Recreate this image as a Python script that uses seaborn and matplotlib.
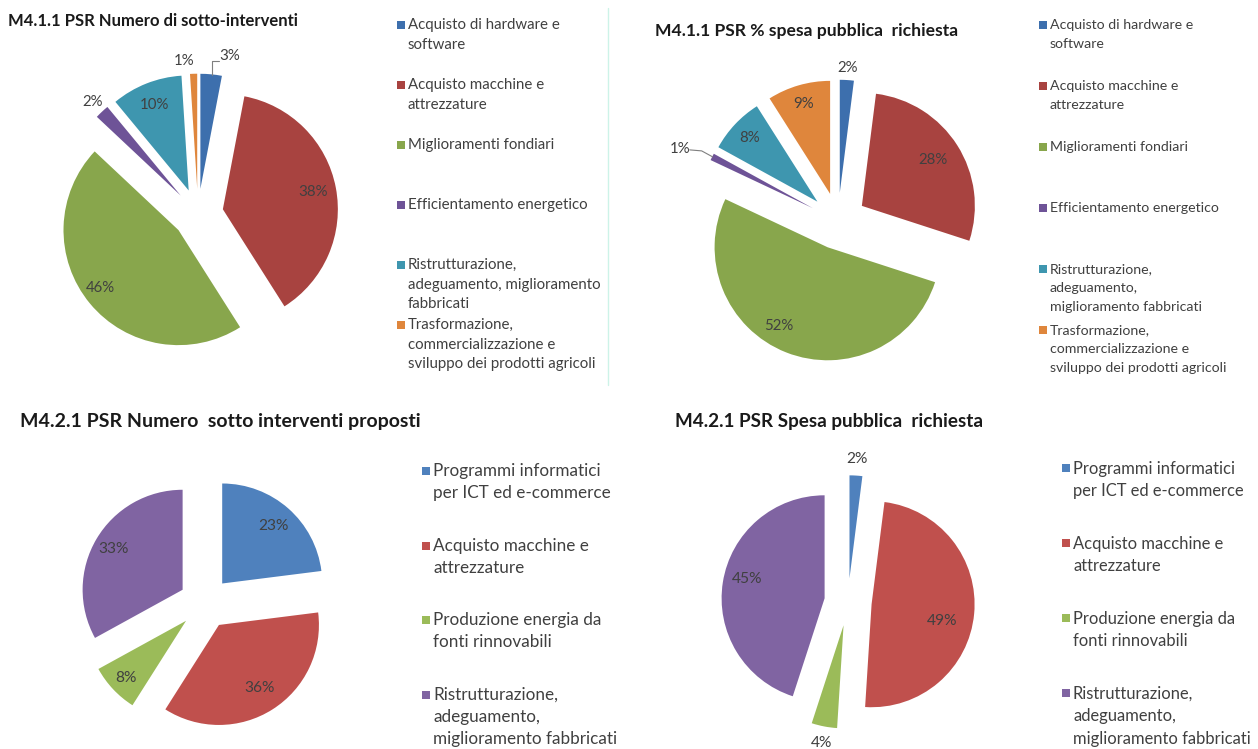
import matplotlib
matplotlib.use("Agg")
import matplotlib.pyplot as plt
from matplotlib.patches import Rectangle
import numpy as np
import seaborn as sns

# ---------------- data ----------------
cats_411_num = [
    "Acquisto di hardware e\nsoftware",
    "Acquisto macchine e\nattrezzature",
    "Miglioramenti fondiari",
    "Efficientamento energetico",
    "Ristrutturazione,\nadeguamento, miglioramento\nfabbricati",
    "Trasformazione,\ncommercializzazione e\nsviluppo dei prodotti agricoli",
]
vals_411_num = [3, 38, 46, 2, 10, 1]

cats_411_spesa = [
    "Acquisto di hardware e\nsoftware",
    "Acquisto macchine e\nattrezzature",
    "Miglioramenti fondiari",
    "Efficientamento energetico",
    "Ristrutturazione,\nadeguamento,\nmiglioramento fabbricati",
    "Trasformazione,\ncommercializzazione e\nsviluppo dei prodotti agricoli",
]
vals_411_spesa = [2, 28, 52, 1, 8, 9]

cats_421 = [
    "Programmi informatici\nper ICT ed e-commerce",
    "Acquisto macchine e\nattrezzature",
    "Produzione energia da\nfonti rinnovabili",
    "Ristrutturazione,\nadeguamento,\nmiglioramento fabbricati",
]
vals_421_num = [23, 36, 8, 33]
vals_421_spesa = [2, 49, 4, 45]

titles = [
    "M4.1.1 PSR Numero di sotto-interventi",
    "M4.1.1 PSR % spesa pubblica  richiesta",
    "M4.2.1 PSR Numero  sotto interventi proposti",
    "M4.2.1 PSR Spesa pubblica  richiesta",
]

# ---------------- style ----------------
sns.set_theme(style="white")
plt.rcParams["font.family"] = ["Lato", "DejaVu Sans"]

pal_top = sns.color_palette(["#3D6FAD", "#A84340", "#88A64C", "#6E5397", "#3E96AF", "#DF863C"])
pal_bot = sns.color_palette(["#4F81BD", "#C0504D", "#9BBB59", "#8064A2"])

W, H = 1258, 749
fig = plt.figure(figsize=(W / 100, H / 100), dpi=100)
ax = fig.add_axes([0, 0, 1, 1])

TXT = "#404040"


def Y(y):
    return H - y


def draw_pie(vals, colors, cx, cy, R, ex, lab_r, lab_dt):
    # explode is given as a fraction of the radius; pie() wants data units
    ax.pie(
        vals, colors=colors, startangle=90, counterclock=False,
        radius=R, center=(cx, Y(cy)), explode=[ex * R] * len(vals),
        wedgeprops=dict(linewidth=0), normalize=True,
    )
    total = float(sum(vals))
    cum = 0.0
    pos = []
    for v, rf, dt in zip(vals, lab_r, lab_dt):
        mid = np.deg2rad((cum + v / 2) / total * 360)
        cum += v
        ax_x = cx + ex * R * np.sin(mid)
        ax_y = Y(cy) + ex * R * np.cos(mid)
        t = mid + np.deg2rad(dt)
        lx = ax_x + rf * R * np.sin(t)
        ly = ax_y + rf * R * np.cos(t)
        pos.append((lx, ly))
    return pos


def label(pos, vals, size):
    for (lx, ly), v in zip(pos, vals):
        ax.text(lx, ly, f"{v}%", ha="center", va="center", fontsize=size, color=TXT)


def legend(cats, colors, x, y0, step, size, ls):
    for i, (c, col) in enumerate(zip(cats, colors)):
        y = y0 + i * step
        ax.add_patch(Rectangle((x, Y(y) - 4), 8, 8, color=col, lw=0))
        ax.text(x + 11, Y(y) + size * 0.62, c, ha="left", va="top", fontsize=size,
                color=TXT, linespacing=ls)


# --- M4.1.1 numero ---
p1 = draw_pie(vals_411_num, pal_top, 198, 214, 115, 0.22,
              [1.18, 0.8, 0.85, 1.12, 0.8, 1.12], [7, 0, 3, 0, 0, -4])
label(p1, vals_411_num, 10.8)
legend(cats_411_num, pal_top, 397, 25, 60, 10.8, 1.5)
ax.text(8, Y(21), titles[0], ha="left", va="center", fontsize=12,
        fontweight="bold", color="#1a1a1a")

# --- M4.1.1 spesa ---
p2 = draw_pie(vals_411_spesa, pal_top, 838, 221, 113, 0.25,
              [1.11, 0.75, 0.82, 1.29, 0.82, 0.83], [0, 0, 10, -3, 0, 0])
label(p2, vals_411_spesa, 10.8)
legend(cats_411_spesa, pal_top, 1039, 25, 61, 10.2, 1.7)
ax.text(655, Y(31), titles[1], ha="left", va="center", fontsize=12.6,
        fontweight="bold", color="#1a1a1a")

# --- M4.2.1 numero ---
p3 = draw_pie(vals_421_num, pal_bot, 205, 603, 100, 0.26,
              [0.77, 0.75, 0.83, 0.8], [0, 0, 0, 0])
label(p3, vals_421_num, 11.2)
legend(cats_421, pal_bot, 422, 471, 74.5, 12.3, 1.45)
ax.text(20, Y(421), titles[2], ha="left", va="center", fontsize=14,
        fontweight="bold", color="#1a1a1a")

# --- M4.2.1 spesa ---
p4 = draw_pie(vals_421_spesa, pal_bot, 848, 602, 103, 0.23,
              [1.16, 0.7, 1.16, 0.78], [0, 8, 0, 5])
label(p4, vals_421_spesa, 11.2)
legend(cats_421, pal_bot, 1062, 468, 75, 11.9, 1.5)
ax.text(675, Y(421), titles[3], ha="left", va="center", fontsize=13.6,
        fontweight="bold", color="#1a1a1a")

# leader lines for the small outside labels
lx, ly = p1[0]
ax.plot([lx - 11, lx - 18, lx - 18], [ly - 5, ly - 5, ly - 19], color="#7f7f7f", lw=0.8)
lx, ly = p2[3]
ax.plot([lx + 10, lx + 22, lx + 33], [ly - 1, ly - 2, ly - 8], color="#7f7f7f", lw=0.8)

# thin frame line on the right of the first chart
ax.plot([608, 608], [Y(8), Y(385)], color="#cdf3e8", lw=1)

ax.set_xlim(0, W)
ax.set_ylim(0, H)
ax.set_aspect("auto")
ax.axis("off")
fig.savefig("out.png", dpi=100, facecolor="white")
